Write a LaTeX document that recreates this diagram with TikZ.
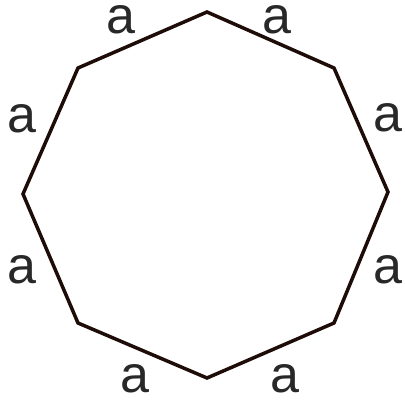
\documentclass[tikz,border=0pt]{standalone}
\usepackage{fontspec}
\setmainfont{Liberation Sans}
\begin{document}
\begin{tikzpicture}[x=1pt,y=-1pt,
  edge/.style={line width=3.5pt, draw={rgb,255:red,30;green,12;blue,8}, line join=miter},
  lbl/.style={inner sep=0pt, text={rgb,255:red,40;green,40;blue,40}, font=\fontsize{52}{60}\selectfont}]
\useasboundingbox (0,0) rectangle (405,401);
\coordinate (t) at (207,12);
\coordinate (ur) at (334,68);
\coordinate (r) at (388,192);
\coordinate (lr) at (334,323);
\coordinate (b) at (207,378);
\coordinate (ll) at (78,323);
\coordinate (l) at (23,194);
\coordinate (ul) at (78,68);
\draw[edge] (t) -- (ur) -- (r) -- (lr) -- (b) -- (ll) -- (l) -- (ul) -- cycle;
\node[lbl] (a1) at (121,20) {a};
\node[lbl] (a2) at (277,20) {a};
\node[lbl] (a3) at (22,119) {a};
\node[lbl] (a4) at (388,118) {a};
\node[lbl] (a5) at (22,270) {a};
\node[lbl] (a6) at (388,270) {a};
\node[lbl] (a7) at (135,379) {a};
\node[lbl] (a8) at (285,379) {a};
\end{tikzpicture}
\end{document}
